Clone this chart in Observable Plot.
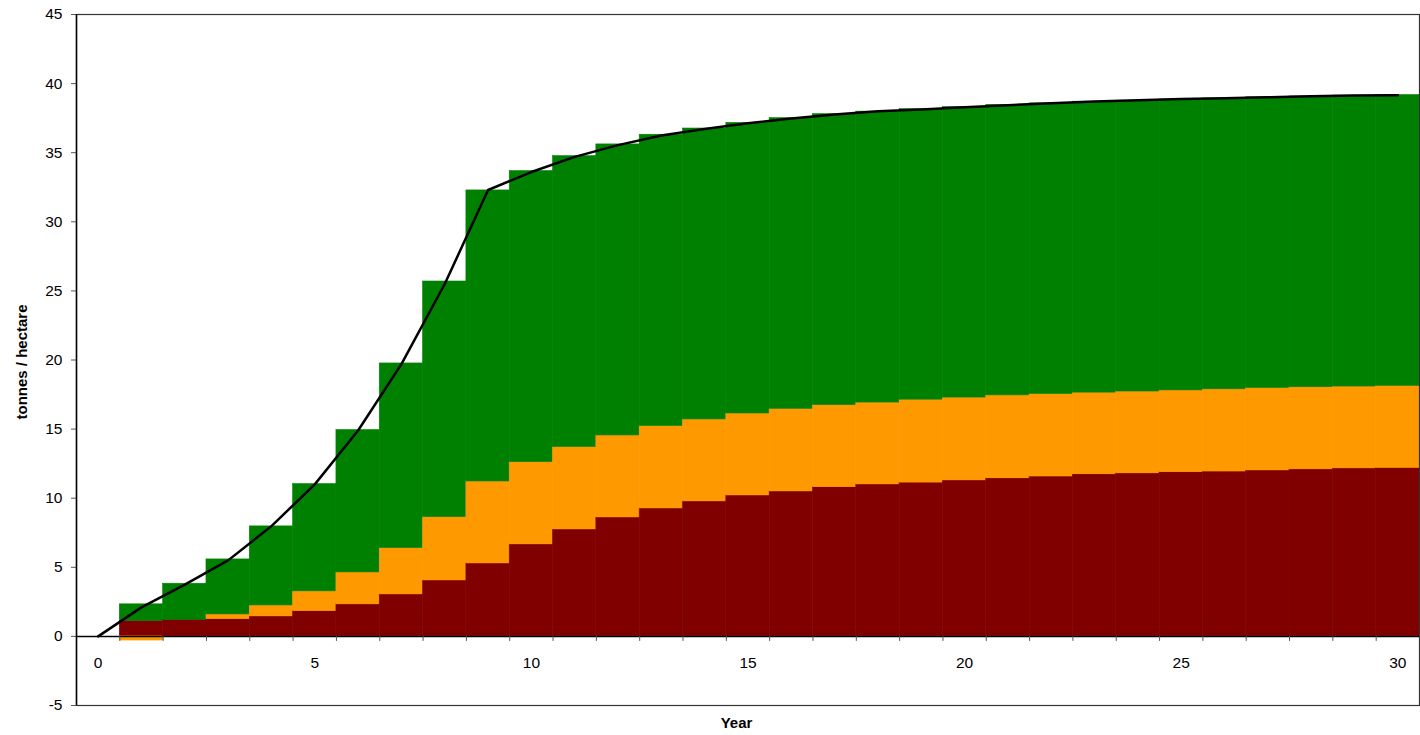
<!DOCTYPE html>
<html>
<head>
<meta charset="utf-8">
<script src="https://cdn.jsdelivr.net/npm/d3@7"></script>
<script src="https://cdn.jsdelivr.net/npm/@observablehq/plot@0.6"></script>
<style>
  html, body { margin: 0; padding: 0; background: #fff; }
  #chart svg { display: block; }
</style>
</head>
<body>
<div id="chart"></div>
<script>
// ---- Data ----
const years = [1,2,3,4,5,6,7,8,9,10,11,12,13,14,15,16,17,18,19,20,21,22,23,24,25,26,27,28,29,30];

// bottom layer (dark red)
const layerBottom = [1.11,1.20,1.25,1.45,1.83,2.32,3.04,4.05,5.28,6.66,7.74,8.61,9.26,9.77,10.20,10.49,10.80,11.00,11.13,11.29,11.44,11.57,11.73,11.80,11.88,11.93,12.01,12.09,12.16,12.19];
// middle layer (orange)
const layerMiddle = [-0.30,0.00,0.34,0.79,1.43,2.31,3.35,4.58,5.93,5.95,5.96,5.93,5.96,5.93,5.93,5.98,5.94,5.92,6.00,5.99,6.00,5.97,5.91,5.92,5.92,5.95,5.97,5.94,5.92,5.94];
// top layer (green)
const layerTop = [1.21,2.61,3.98,5.72,7.76,10.30,13.36,17.05,21.06,21.06,21.05,21.06,21.08,21.05,21.03,21.03,21.05,21.05,21.02,21.03,21.02,21.03,21.05,21.04,21.05,21.04,21.03,21.04,21.05,21.04];

// black line (total)
const lineYears = [0,1,2,3,4,5,6,7,8,9,10,11,12,13,14,15,16,17,18,19,20,21,22,23,24,25,26,27,28,29,30];
const lineTotal = [0,2.1,3.75,5.5,7.98,11.0,14.9,19.7,25.5,32.3,33.6,34.7,35.55,36.25,36.72,37.13,37.47,37.77,38.0,38.13,38.29,38.44,38.57,38.7,38.8,38.88,38.94,39.01,39.08,39.13,39.15];

const seriesNames = ["bottom", "middle", "top"];
const seriesColors = ["#800000", "#FF9900", "#008000"];

const yTicks = [-5,0,5,10,15,20,25,30,35,40,45];
const xLabels = [0,5,10,15,20,25,30];
const xTickMarks = years.map(y => y - 0.5).concat([30.5]);

// ---- Build table ----
const rows = years.flatMap((yr, i) => [
  {year: yr, series: "bottom", value: layerBottom[i]},
  {year: yr, series: "middle", value: layerMiddle[i]},
  {year: yr, series: "top", value: layerTop[i]}
]);
const lineData = lineYears.map((yr, i) => ({year: yr, total: lineTotal[i]}));

const stacked = Plot.stackY({x: "year", y: "value", fill: "series", stroke: "series"});
const {x: _unusedX, ...rectOpts} = stacked;

const chart = Plot.plot({
  width: 1420,
  height: 735,
  marginLeft: 76,
  marginRight: 1,
  marginTop: 14,
  marginBottom: 30,
  style: {fontFamily: "'Liberation Sans', Arial, sans-serif", fontSize: "15px", color: "#000", background: "#fff"},
  x: {domain: [-0.5, 30.5], axis: null},
  y: {domain: [-5, 45], axis: null, label: null},
  color: {type: "ordinal", domain: seriesNames, range: seriesColors},
  marks: [
    Plot.rect(rows, {...rectOpts, strokeWidth: 0.6, x1: d => d.year - 0.5, x2: d => d.year + 0.5}),
    Plot.ruleY([0], {stroke: "#000", strokeWidth: 1.5}),
    Plot.ruleX(xTickMarks, {y1: 0, y2: 0, insetBottom: -5, stroke: "#555", strokeWidth: 1}),
    Plot.text(xLabels, {x: d => d, y: 0, dy: 27, text: d => String(d), fontSize: 15.5, fill: "#000"}),
    Plot.line(lineData, {x: "year", y: "total", stroke: "#000", strokeWidth: 2.5}),
    Plot.frame({stroke: "#333", strokeWidth: 1.2}),
    Plot.axisY({ticks: yTicks, tickSize: 5, tickPadding: 9, fontSize: 15.5, tickFormat: d => String(d), label: null, stroke: "#555"}),
    Plot.ruleX([-0.5], {stroke: "#000", strokeWidth: 1.5}),
    Plot.text(["tonnes / hectare"], {frameAnchor: "left", dx: -54, dy: 2, rotate: -90, textAnchor: "middle", lineAnchor: "middle", fontWeight: "bold", fontSize: 15, fill: "#000"}),
    Plot.text(["Year"], {frameAnchor: "bottom", dx: -11.5, dy: 18, textAnchor: "middle", lineAnchor: "middle", fontWeight: "bold", fontSize: 15, fill: "#000"})
  ]
});

document.getElementById("chart").appendChild(chart);
</script>
</body>
</html>
